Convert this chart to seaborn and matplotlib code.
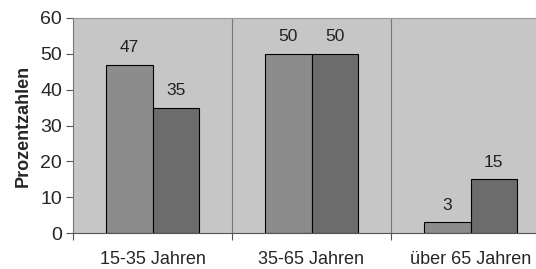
import pandas as pd
import matplotlib.pyplot as plt
import seaborn as sns

# Daten
kategorien = ['15-35 Jahren', '35-65 Jahren', 'über 65 Jahren']
serie_a = [47, 50, 3]
serie_b = [35, 50, 15]
serien = ['A', 'B']
farben = ['#8c8c8c', '#6c6c6c']

df = pd.DataFrame({
    'Kategorie': kategorien * 2,
    'Wert': serie_a + serie_b,
    'Serie': [serien[0]] * 3 + [serien[1]] * 3,
})

sns.set_style('white')
plt.rcParams['font.family'] = ['Liberation Sans', 'DejaVu Sans']

fig = plt.figure(figsize=(5.36, 2.69), dpi=100)
ax = fig.add_axes([73 / 536, 1 - 233 / 269, (550 - 73) / 536, (233 - 18) / 269])
ax.set_facecolor('#c6c6c6')

sns.barplot(data=df, x='Kategorie', y='Wert', hue='Serie', palette=farben,
            width=0.58, edgecolor='black', linewidth=0.8, saturation=1,
            legend=False, ax=ax)

for cont in ax.containers:
    ax.bar_label(cont, padding=7, fontsize=12.5, color='#222222')

ax.set_xlim(-0.5, 2.5)
ax.set_ylim(0, 60)
ax.set_yticks(range(0, 61, 10))
ax.set_xlabel('')
ax.set_ylabel('Prozentzahlen', fontsize=13, fontweight='bold', labelpad=6)
ax.tick_params(axis='y', labelsize=14, length=5, width=0.8, color='#555555', left=True, pad=3)
ax.tick_params(axis='x', which='major', labelsize=13, length=0, pad=13)
ax.set_xticks([0.5, 1.5, -0.5], minor=True)
ax.tick_params(axis='x', which='minor', length=5, width=0.8, color='#555555', bottom=True)

for xv in [0.5, 1.5]:
    ax.axvline(xv, color='#777777', linewidth=0.8)

for side in ['top', 'right']:
    ax.spines[side].set_color('#999999')
    ax.spines[side].set_linewidth(0.8)
ax.spines['left'].set_color('#777777')
ax.spines['bottom'].set_color('#555555')
ax.spines['left'].set_linewidth(0.8)
ax.spines['bottom'].set_linewidth(0.8)

fig.savefig('out.png', dpi=100)
